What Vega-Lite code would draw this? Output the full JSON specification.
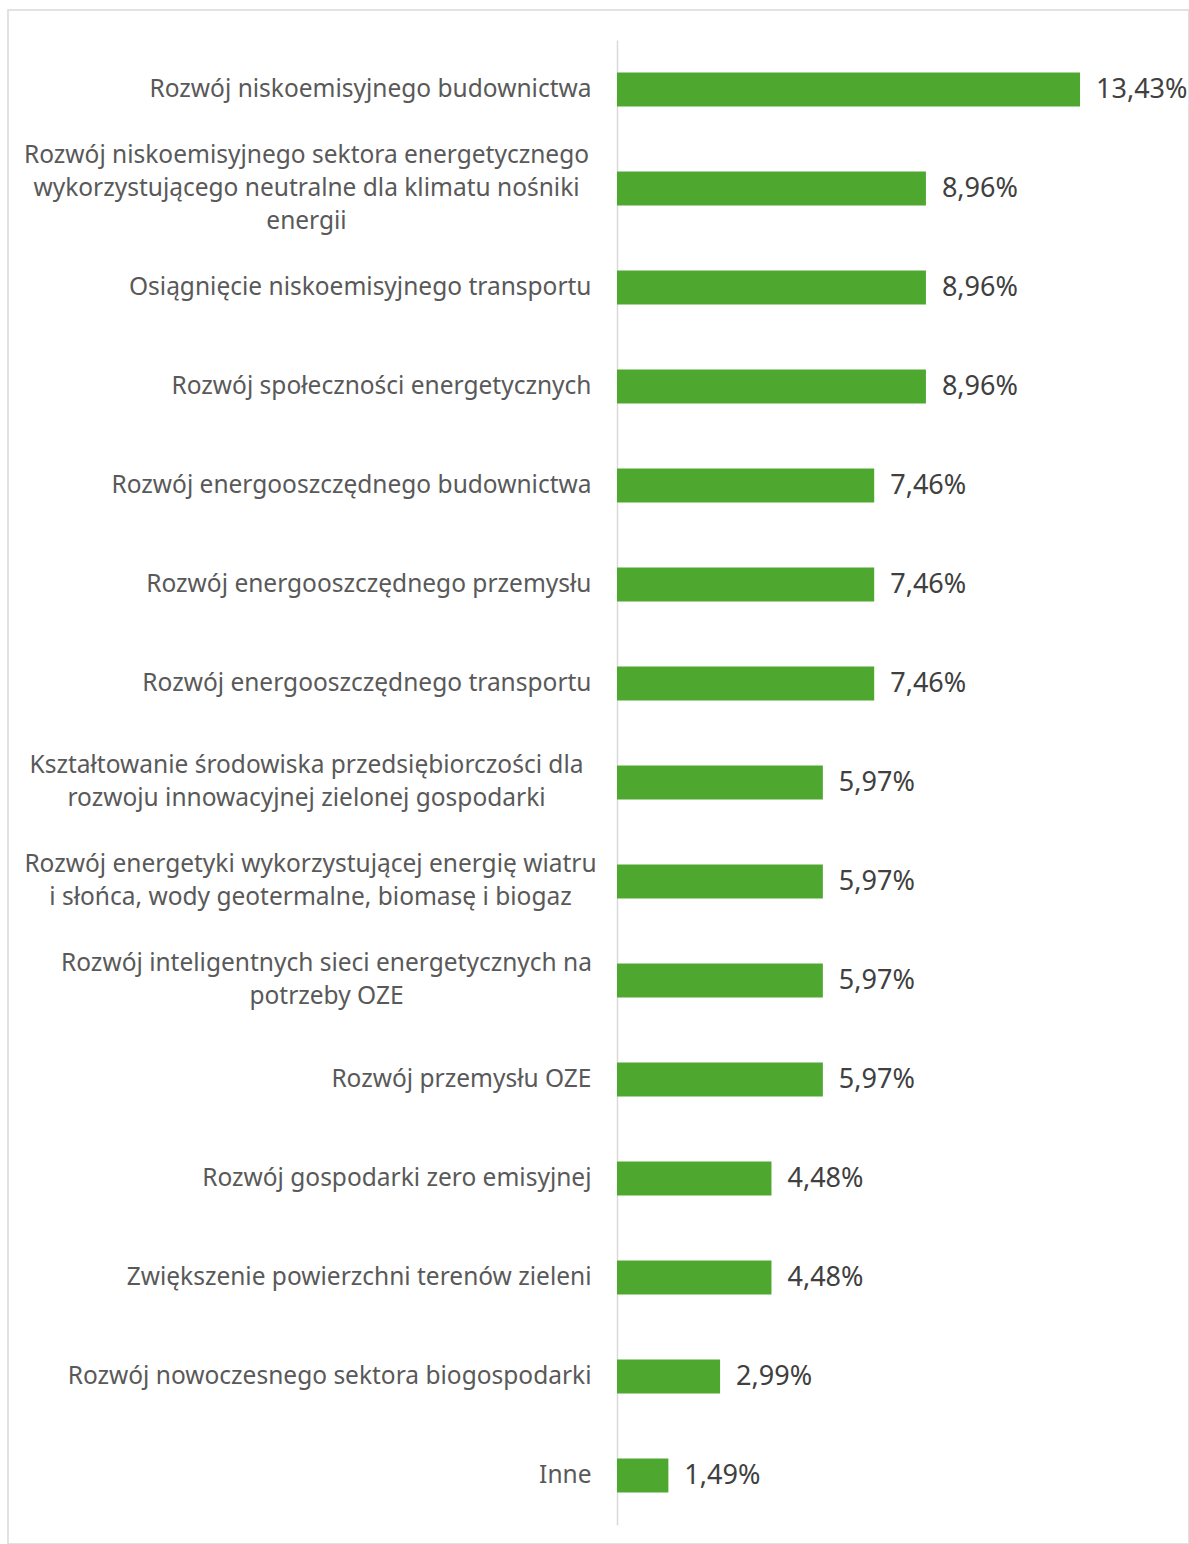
{
  "$schema": "https://vega.github.io/schema/vega-lite/v6.json",
  "width": 1181,
  "height": 1534,
  "autosize": {"type": "none"},
  "padding": {"left": 8, "top": 10, "right": 0, "bottom": 0},
  "background": "white",
  "config": {
    "view": {"stroke": "#d9d9d9", "strokeWidth": 1.5},
    "locale": {"number": {"decimal": ",", "thousands": " ", "grouping": [3], "currency": ["", " zł"]}},
    "font": "Noto Sans"
  },
  "data": {
    "values": [
      {"category": "Rozwój niskoemisyjnego budownictwa", "value": 0.1343},
      {"category": "Rozwój niskoemisyjnego sektora energetycznego|wykorzystującego neutralne dla klimatu nośniki|energii", "value": 0.0896},
      {"category": "Osiągnięcie niskoemisyjnego transportu", "value": 0.0896},
      {"category": "Rozwój społeczności energetycznych", "value": 0.0896},
      {"category": "Rozwój energooszczędnego budownictwa", "value": 0.0746},
      {"category": "Rozwój energooszczędnego przemysłu", "value": 0.0746},
      {"category": "Rozwój energooszczędnego transportu", "value": 0.0746},
      {"category": "Kształtowanie środowiska przedsiębiorczości dla|rozwoju innowacyjnej zielonej gospodarki", "value": 0.0597},
      {"category": "Rozwój energetyki wykorzystującej energię wiatru|i słońca, wody geotermalne, biomasę i biogaz", "value": 0.0597},
      {"category": "Rozwój inteligentnych sieci energetycznych na|potrzeby OZE", "value": 0.0597},
      {"category": "Rozwój przemysłu OZE", "value": 0.0597},
      {"category": "Rozwój gospodarki zero emisyjnej", "value": 0.0448},
      {"category": "Zwiększenie powierzchni terenów zieleni", "value": 0.0448},
      {"category": "Rozwój nowoczesnego sektora biogospodarki", "value": 0.0299},
      {"category": "Inne", "value": 0.0149}
    ]
  },
  "encoding": {
    "y": {
      "field": "category",
      "type": "nominal",
      "sort": null,
      "scale": {"range": [30, 1515], "paddingInner": 0.655, "paddingOuter": 0.3275},
      "axis": {
        "title": null,
        "offset": -609,
        "labelExpr": "split(datum.label, '|')",
        "labelFontSize": 24.5,
        "labelColor": "#595959",
        "labelLineHeight": 33,
        "labelAlign": {"condition": {"test": "indexof(datum.value, '|') >= 0", "value": "center"}, "value": "right"},
        "labelPadding": {"condition": [
          {"test": "indexof(datum.value, 'inteligentnych') >= 0", "value": 291},
          {"test": "indexof(datum.value, 'wiatru') >= 0", "value": 307},
          {"test": "indexof(datum.value, '|') >= 0", "value": 311}
        ], "value": 26},
        "labelOffset": {"condition": [
          {"test": "length(split(datum.value, '|')) == 3", "value": -33},
          {"test": "length(split(datum.value, '|')) == 2", "value": -16.5}
        ], "value": 0},
        "labelLimit": 700,
        "ticks": false,
        "domainColor": "#d9d9d9",
        "domainWidth": 1.5,
        "grid": false
      }
    },
    "x": {
      "field": "value",
      "type": "quantitative",
      "scale": {"domain": [0, 0.1659], "range": [609, 1181]},
      "axis": null
    }
  },
  "layer": [
    {"mark": {"type": "bar", "color": "#4ea72e"}},
    {
      "mark": {"type": "text", "align": "left", "baseline": "middle", "dx": 16, "fontSize": 27, "color": "#404040"},
      "encoding": {"text": {"field": "value", "type": "quantitative", "format": ".2%"}}
    }
  ]
}
